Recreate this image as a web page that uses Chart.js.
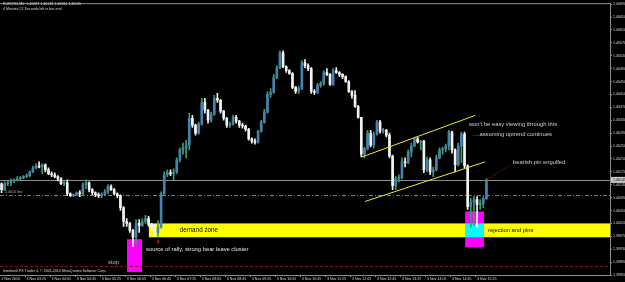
<!DOCTYPE html>
<html>
<head>
<meta charset="utf-8">
<script src="https://cdn.jsdelivr.net/npm/chart.js@4.4.0/dist/chart.umd.min.js"></script>
<style>
  html, body { margin: 0; padding: 0; background: #000; }
  canvas { display: block; }
</style>
</head>
<body>
<canvas id="chart" width="625" height="282"></canvas>
<script>
// EURUSD M5 bars
const opens = [
  1.40133, 1.40115, 1.40133, 1.40136, 1.40142, 1.40145, 1.40148, 1.40152, 1.40155, 1.40158,
  1.40170, 1.40182, 1.40188, 1.40185, 1.40192, 1.40176, 1.40164, 1.40161, 1.40155, 1.40148,
  1.40133, 1.40136, 1.40102, 1.40096, 1.40099, 1.40105, 1.40102, 1.40130, 1.40136, 1.40115,
  1.40105, 1.40099, 1.40096, 1.40099, 1.40108, 1.40124, 1.40115, 1.40102, 1.40096, 1.40059,
  1.40016, 1.40010, 1.39988, 1.39967, 1.40010, 1.40004, 1.40016, 1.40025, 1.40007, 1.39998,
  1.39982, 1.39998, 1.40102, 1.40161, 1.40167, 1.40164, 1.40170, 1.40207, 1.40238, 1.40244,
  1.40253, 1.40336, 1.40315, 1.40290, 1.40318, 1.40385, 1.40361, 1.40330, 1.40348, 1.40398,
  1.40392, 1.40358, 1.40336, 1.40315, 1.40318, 1.40339, 1.40327, 1.40315, 1.40312, 1.40302,
  1.40272, 1.40265, 1.40262, 1.40296, 1.40324, 1.40355, 1.40410, 1.40416, 1.40462, 1.40493,
  1.40539, 1.40496, 1.40484, 1.40475, 1.40432, 1.40419, 1.40428, 1.40508, 1.40499, 1.40490,
  1.40419, 1.40416, 1.40438, 1.40444, 1.40478, 1.40472, 1.40441, 1.40484, 1.40478, 1.40472,
  1.40465, 1.40450, 1.40419, 1.40407, 1.40373, 1.40339, 1.40225, 1.40241, 1.40290, 1.40253,
  1.40287, 1.40324, 1.40296, 1.40299, 1.40284, 1.40219, 1.40127, 1.40148, 1.40152, 1.40201,
  1.40198, 1.40232, 1.40250, 1.40272, 1.40262, 1.40265, 1.40176, 1.40207, 1.40170, 1.40176,
  1.40213, 1.40238, 1.40241, 1.40250, 1.40293, 1.40238, 1.40192, 1.40250, 1.40287, 1.40188,
  1.40062, 1.40075, 1.40084, 1.40068, 1.40072, 1.40087
];
const highs = [
  1.40136, 1.40139, 1.40142, 1.40148, 1.40148, 1.40155, 1.40155, 1.40158, 1.40164, 1.40173,
  1.40188, 1.40195, 1.40201, 1.40195, 1.40195, 1.40182, 1.40170, 1.40167, 1.40158, 1.40152,
  1.40142, 1.40145, 1.40105, 1.40102, 1.40108, 1.40112, 1.40136, 1.40145, 1.40139, 1.40118,
  1.40108, 1.40105, 1.40105, 1.40115, 1.40130, 1.40130, 1.40118, 1.40105, 1.40099, 1.40062,
  1.40025, 1.40013, 1.39992, 1.40022, 1.40022, 1.40025, 1.40035, 1.40032, 1.40010, 1.40007,
  1.40019, 1.40108, 1.40170, 1.40176, 1.40176, 1.40179, 1.40213, 1.40244, 1.40259, 1.40268,
  1.40352, 1.40345, 1.40318, 1.40324, 1.40398, 1.40398, 1.40364, 1.40355, 1.40407, 1.40413,
  1.40395, 1.40361, 1.40339, 1.40324, 1.40345, 1.40345, 1.40330, 1.40321, 1.40315, 1.40305,
  1.40275, 1.40272, 1.40299, 1.40330, 1.40364, 1.40419, 1.40428, 1.40472, 1.40499, 1.40545,
  1.40545, 1.40499, 1.40487, 1.40478, 1.40435, 1.40435, 1.40515, 1.40518, 1.40505, 1.40493,
  1.40425, 1.40444, 1.40450, 1.40484, 1.40490, 1.40475, 1.40490, 1.40493, 1.40481, 1.40475,
  1.40468, 1.40453, 1.40422, 1.40422, 1.40376, 1.40339, 1.40247, 1.40299, 1.40299, 1.40293,
  1.40330, 1.40330, 1.40305, 1.40302, 1.40290, 1.40222, 1.40155, 1.40161, 1.40213, 1.40213,
  1.40238, 1.40259, 1.40278, 1.40278, 1.40268, 1.40268, 1.40216, 1.40213, 1.40185, 1.40222,
  1.40244, 1.40247, 1.40256, 1.40299, 1.40296, 1.40241, 1.40259, 1.40293, 1.40293, 1.40192,
  1.40087, 1.40093, 1.40093, 1.40084, 1.40093, 1.40148
];
const lows = [
  1.40105, 1.40112, 1.40127, 1.40127, 1.40136, 1.40142, 1.40145, 1.40148, 1.40152, 1.40155,
  1.40167, 1.40179, 1.40182, 1.40164, 1.40170, 1.40161, 1.40155, 1.40152, 1.40142, 1.40130,
  1.40127, 1.40096, 1.40093, 1.40093, 1.40096, 1.40093, 1.40099, 1.40118, 1.40108, 1.40099,
  1.40093, 1.40090, 1.40090, 1.40096, 1.40102, 1.40112, 1.40099, 1.40090, 1.40050, 1.40001,
  1.40001, 1.39982, 1.39939, 1.39942, 1.39982, 1.40001, 1.40010, 1.40001, 1.39988, 1.39970,
  1.39970, 1.39995, 1.40096, 1.40155, 1.40158, 1.40145, 1.40164, 1.40201, 1.40225, 1.40213,
  1.40238, 1.40308, 1.40284, 1.40287, 1.40315, 1.40352, 1.40321, 1.40324, 1.40345, 1.40385,
  1.40352, 1.40330, 1.40308, 1.40308, 1.40315, 1.40321, 1.40308, 1.40305, 1.40296, 1.40268,
  1.40259, 1.40256, 1.40259, 1.40293, 1.40321, 1.40352, 1.40401, 1.40413, 1.40459, 1.40490,
  1.40493, 1.40478, 1.40472, 1.40428, 1.40413, 1.40413, 1.40425, 1.40493, 1.40484, 1.40413,
  1.40410, 1.40413, 1.40432, 1.40438, 1.40468, 1.40438, 1.40438, 1.40475, 1.40465, 1.40459,
  1.40447, 1.40416, 1.40398, 1.40370, 1.40336, 1.40216, 1.40213, 1.40238, 1.40247, 1.40244,
  1.40284, 1.40290, 1.40290, 1.40278, 1.40213, 1.40115, 1.40115, 1.40139, 1.40148, 1.40185,
  1.40195, 1.40216, 1.40247, 1.40259, 1.40238, 1.40167, 1.40170, 1.40161, 1.40155, 1.40173,
  1.40210, 1.40225, 1.40232, 1.40238, 1.40228, 1.40170, 1.40188, 1.40198, 1.40182, 1.40053,
  1.39998, 1.40004, 1.39998, 1.40053, 1.40059, 1.40084
];
const closes = [
  1.40115, 1.40133, 1.40136, 1.40142, 1.40145, 1.40148, 1.40152, 1.40155, 1.40158, 1.40170,
  1.40182, 1.40188, 1.40185, 1.40192, 1.40176, 1.40164, 1.40161, 1.40155, 1.40148, 1.40133,
  1.40136, 1.40102, 1.40096, 1.40099, 1.40105, 1.40102, 1.40130, 1.40136, 1.40115, 1.40105,
  1.40099, 1.40096, 1.40099, 1.40108, 1.40124, 1.40115, 1.40102, 1.40096, 1.40059, 1.40016,
  1.40010, 1.39988, 1.39967, 1.40010, 1.40004, 1.40016, 1.40025, 1.40007, 1.39998, 1.39982,
  1.39998, 1.40102, 1.40161, 1.40167, 1.40164, 1.40170, 1.40207, 1.40238, 1.40244, 1.40253,
  1.40336, 1.40315, 1.40290, 1.40318, 1.40385, 1.40361, 1.40330, 1.40348, 1.40398, 1.40392,
  1.40358, 1.40336, 1.40315, 1.40318, 1.40339, 1.40327, 1.40315, 1.40312, 1.40302, 1.40272,
  1.40265, 1.40262, 1.40296, 1.40324, 1.40355, 1.40410, 1.40416, 1.40462, 1.40493, 1.40539,
  1.40496, 1.40484, 1.40475, 1.40432, 1.40419, 1.40428, 1.40508, 1.40499, 1.40490, 1.40419,
  1.40416, 1.40438, 1.40444, 1.40478, 1.40472, 1.40441, 1.40484, 1.40478, 1.40472, 1.40465,
  1.40450, 1.40419, 1.40407, 1.40373, 1.40339, 1.40225, 1.40241, 1.40290, 1.40253, 1.40287,
  1.40324, 1.40296, 1.40299, 1.40284, 1.40219, 1.40127, 1.40148, 1.40152, 1.40201, 1.40198,
  1.40232, 1.40250, 1.40272, 1.40262, 1.40265, 1.40176, 1.40207, 1.40170, 1.40176, 1.40213,
  1.40238, 1.40241, 1.40250, 1.40293, 1.40238, 1.40192, 1.40250, 1.40287, 1.40188, 1.40062,
  1.40075, 1.40084, 1.40068, 1.40072, 1.40087, 1.40145
];

const timeLabels = [
  '2 Nov 2010', '3 Nov 03:25', '3 Nov 04:05', '3 Nov 04:45', '3 Nov 05:25',
  '3 Nov 06:05', '3 Nov 06:45', '3 Nov 07:25', '3 Nov 08:05', '3 Nov 08:45',
  '3 Nov 09:25', '3 Nov 10:05', '3 Nov 10:45', '3 Nov 11:25', '3 Nov 12:05',
  '3 Nov 12:45', '3 Nov 13:25', '3 Nov 14:05', '3 Nov 14:45', '3 Nov 15:25'
];
const priceTicks = [
  1.39850, 1.39890, 1.39930, 1.39970, 1.40010, 1.40050, 1.40090, 1.40130,
  1.40170, 1.40210, 1.40250, 1.40290, 1.40330, 1.40370, 1.40410, 1.40450,
  1.40490, 1.40530, 1.40570, 1.40610, 1.40650, 1.40690
];

const barsPerLabel = 8;
const slotCount = 195;          // visible bar slots incl. empty right shift
const slots = Array.from({ length: slotCount }, (_, i) => i);
const bidPrice = 1.40145;
const hLinePrice = 1.40099;
const stopLinePrice = 1.39878;

// chart objects (bar slot coordinate, price)
const zones = [
  { from: 47.6, to: null, top: 1.40010, bottom: 1.39967, color: '#ffff00' },
  { from: 40.6, to: 45.4, top: 1.39961, bottom: 1.39859, color: '#ff00ff', blend: 'difference' },
  { from: 148.7, to: 154.7, top: 1.40047, bottom: 1.39936, color: '#ff00ff', blend: 'difference' }
];
const channel = [
  { u0: 115.7, p0: 1.40216, u1: 151.9, p1: 1.40345 },
  { u0: 116.7, p0: 1.40078, u1: 155.1, p1: 1.40201 }
];
const notes = [
  { text: 'demand zone', u: 57.5, p: 1.39988, color: '#000', size: 6.3 },
  { text: 'rejection and pins', u: 156, p: 1.39988, color: '#000', size: 5.8 },
  { text: 'source of rally, strong bear leave cluster', u: 46.7, p: 1.39930, color: '#e6e6e6', size: 5.8 },
  { text: 'stop', u: 34.5, p: 1.39890, color: '#bdbdbd', size: 5.8 },
  { text: "won't be easy viewing through this", u: 149.9, p: 1.40318, color: '#d0d0d0', size: 5.8 },
  { text: '....assuming uptrend continues', u: 151.2, p: 1.40287, color: '#d0d0d0', size: 5.8 },
  { text: 'bearish pin engulfed', u: 164, p: 1.40198, color: '#d0d0d0', size: 5.8 },
  { text: '1.4010 line', u: 1.6, p: 1.40108, color: '#b0b0b0', size: 3.6 }
];

const FONT = "'Liberation Sans', Arial, sans-serif";
const up = closes.map((c, i) => c >= opens[i]);

const overlay = {
  id: 'overlay',
  beforeDraw(chart) {
    const ctx = chart.ctx;
    ctx.save();
    ctx.fillStyle = '#000';
    ctx.fillRect(0, 0, chart.width, chart.height);
    ctx.restore();
  },
  beforeDatasetsDraw(chart) {
    const { ctx, chartArea: a, scales: { x, y } } = chart;
    const xAt = u => x.getPixelForValue(u - 0.5);
    ctx.save();
    ctx.beginPath();
    ctx.rect(a.left, a.top, a.right - a.left, a.bottom - a.top);
    ctx.clip();
    zones.forEach(z => {
      ctx.globalCompositeOperation = z.blend || 'source-over';
      ctx.fillStyle = z.color;
      const x0 = xAt(z.from);
      const x1 = z.to == null ? a.right : xAt(z.to);
      const y0 = y.getPixelForValue(z.top);
      const y1 = y.getPixelForValue(z.bottom);
      ctx.fillRect(x0, y0, x1 - x0, y1 - y0);
    });
    ctx.globalCompositeOperation = 'source-over';

    const hline = (price, color, dash) => {
      const py = Math.round(y.getPixelForValue(price)) + 0.5;
      ctx.strokeStyle = color;
      ctx.lineWidth = 1;
      ctx.setLineDash(dash);
      ctx.beginPath();
      ctx.moveTo(a.left, py);
      ctx.lineTo(a.right, py);
      ctx.stroke();
    };
    hline(bidPrice, '#8c8c8c', []);
    hline(hLinePrice, '#6f866f', [4, 2, 1, 2]);
    hline(stopLinePrice, '#7a1515', [3, 2]);
    ctx.restore();
  },
  afterDatasetsDraw(chart) {
    const { ctx, chartArea: a, scales: { x, y } } = chart;
    const xAt = u => x.getPixelForValue(u - 0.5);
    ctx.save();
    ctx.beginPath();
    ctx.rect(a.left, a.top, a.right - a.left, a.bottom - a.top);
    ctx.clip();

    ctx.strokeStyle = '#e8e83a';
    ctx.lineWidth = 1;
    channel.forEach(l => {
      ctx.beginPath();
      ctx.moveTo(xAt(l.u0), y.getPixelForValue(l.p0));
      ctx.lineTo(xAt(l.u1), y.getPixelForValue(l.p1));
      ctx.stroke();
    });

    // red dotted pointer to the pin bar
    ctx.strokeStyle = '#9a1c1c';
    ctx.setLineDash([1, 1]);
    ctx.beginPath();
    ctx.moveTo(xAt(155.6), y.getPixelForValue(1.40145));
    ctx.lineTo(xAt(163.2), y.getPixelForValue(1.40192));
    ctx.stroke();
    ctx.setLineDash([]);

    // small red arrow under the rally bar
    const ax = xAt(50.6), ay = y.getPixelForValue(1.39955);
    ctx.fillStyle = '#c02020';
    ctx.beginPath();
    ctx.moveTo(ax, ay - 2);
    ctx.lineTo(ax - 1.5, ay + 0.5);
    ctx.lineTo(ax + 1.5, ay + 0.5);
    ctx.closePath();
    ctx.fill();
    ctx.fillRect(ax - 0.5, ay, 1, 2.5);

    ctx.textBaseline = 'middle';
    ctx.textAlign = 'left';
    notes.forEach(n => {
      ctx.font = n.size + 'px ' + FONT;
      ctx.fillStyle = n.color;
      ctx.fillText(n.text, xAt(n.u), y.getPixelForValue(n.p));
    });
    ctx.restore();
  },
  afterDraw(chart) {
    const { ctx, chartArea: a, scales: { y } } = chart;
    ctx.save();
    // frame top line
    ctx.strokeStyle = '#8c8c8c';
    ctx.lineWidth = 1;
    ctx.beginPath();
    ctx.moveTo(a.left, a.top + 0.5);
    ctx.lineTo(a.right, a.top + 0.5);
    ctx.stroke();

    // current bid box on the price scale
    const by = y.getPixelForValue(bidPrice);
    ctx.fillStyle = '#c8c8c8';
    ctx.fillRect(a.right + 1, by - 3, chart.width - a.right - 1, 6);
    ctx.fillStyle = '#000';
    ctx.font = '3.6px ' + FONT;
    ctx.textBaseline = 'middle';
    ctx.textAlign = 'left';
    ctx.fillText(bidPrice.toFixed(5), a.right + 3, by);

    // header and footer text
    ctx.fillStyle = '#d8d8d8';
    const last = closes.length - 1;
    ctx.fillText('EURUSD,M5  ' + [opens[last], highs[last], lows[last], closes[last]].map(v => v.toFixed(5)).join(' '), 3, 4);
    ctx.fillText('4 Minutes 52 Seconds left to bar end', 3, 9);
    ctx.fillText('Interbank FX Trader 4, \u00a9 2001-2010 MetaQuotes Software Corp.', 3, 271);
    ctx.restore();
  }
};

new Chart(document.getElementById('chart'), {
  type: 'bar',
  data: {
    labels: slots,
    datasets: [
      {
        label: 'body',
        data: opens.map((o, i) => [o, closes[i]]),
        backgroundColor: up.map(u => u ? '#4682b4' : '#f2f2f2'),
        barThickness: 2,
        minBarLength: 1,
        grouped: false,
        order: 1
      },
      {
        label: 'range',
        data: lows.map((l, i) => [l, highs[i]]),
        backgroundColor: up.map(u => u ? '#3aa35a' : '#f2f2f2'),
        barThickness: 1,
        grouped: false,
        order: 2
      }
    ]
  },
  options: {
    responsive: false,
    animation: false,
    devicePixelRatio: 1,
    layout: { padding: { top: 1, left: 0, right: 0, bottom: 0 } },
    plugins: { legend: { display: false }, tooltip: { enabled: false } },
    scales: {
      x: {
        type: 'category',
        offset: true,
        grid: {
          offset: true,
          drawOnChartArea: false,
          tickLength: 2,
          color: c => (c.index % barsPerLabel === 0 && c.index / barsPerLabel < timeLabels.length) ? '#8c8c8c' : 'rgba(0,0,0,0)'
        },
        border: { display: true, color: '#8c8c8c' },
        ticks: {
          autoSkip: false,
          maxRotation: 0,
          minRotation: 0,
          align: 'start',
          padding: 0,
          color: '#d8d8d8',
          font: { family: FONT, size: 3.6 },
          callback: (v, i) => (i % barsPerLabel === 0 && timeLabels[i / barsPerLabel]) || ''
        },
        afterFit: s => { s.height = 7; }
      },
      y: {
        position: 'right',
        min: 1.3985,
        max: 1.40693,
        afterBuildTicks: s => { s.ticks = priceTicks.map(v => ({ value: v })); },
        grid: { drawOnChartArea: false, tickLength: 2, color: '#8c8c8c' },
        border: { display: true, color: '#8c8c8c' },
        ticks: {
          padding: 1,
          color: '#d8d8d8',
          font: { family: FONT, size: 3.6 },
          callback: v => v.toFixed(5)
        },
        afterFit: s => { s.width = 15; }
      }
    }
  },
  plugins: [overlay]
});
</script>
</body>
</html>
